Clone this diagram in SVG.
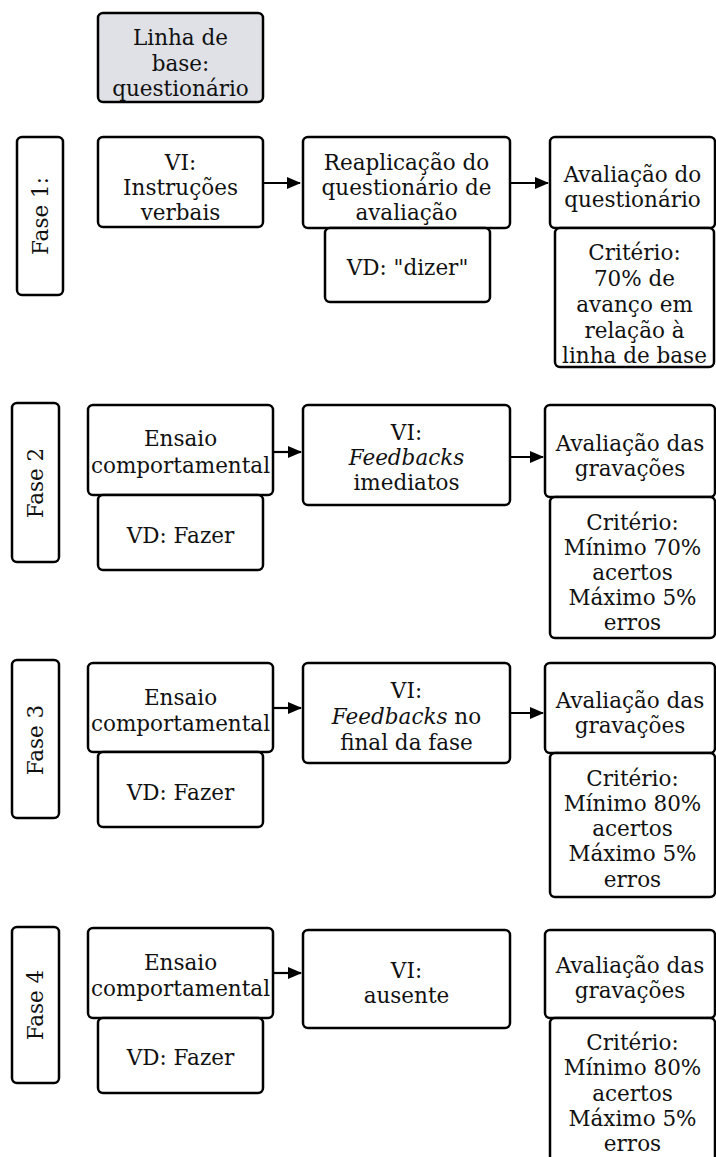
<svg xmlns="http://www.w3.org/2000/svg" width="716" height="1157" viewBox="0 0 716 1157">
<style>
.b{fill:#fff;stroke:#000;stroke-width:2.5}
.g{fill:#dfe1e6;stroke:#000;stroke-width:2.5}
text{font-family:"DejaVu Serif","Liberation Serif",serif;font-size:21.5px;fill:#111;text-anchor:middle}
.i{font-style:italic}
.c{stroke:#000;stroke-width:2.2;fill:none}
</style>
<defs>
<marker id="ah" markerUnits="userSpaceOnUse" markerWidth="14" markerHeight="12" refX="13" refY="6" orient="auto">
<path d="M0,0 L14,6 L0,12 Z" fill="#000"/>
</marker>
</defs>
<rect width="716" height="1157" fill="#fff"/>

<g id="connectors">
<line class="c" x1="263" y1="183" x2="300" y2="183" marker-end="url(#ah)"/>
<line class="c" x1="510" y1="183" x2="548" y2="183" marker-end="url(#ah)"/>
<line class="c" x1="273" y1="452" x2="301" y2="452" marker-end="url(#ah)"/>
<line class="c" x1="510" y1="457" x2="543" y2="457" marker-end="url(#ah)"/>
<line class="c" x1="273" y1="708" x2="301" y2="708" marker-end="url(#ah)"/>
<line class="c" x1="510" y1="713" x2="543" y2="713" marker-end="url(#ah)"/>
<line class="c" x1="273" y1="973" x2="301" y2="973" marker-end="url(#ah)"/>
</g>

<g id="baseline">
<rect class="g" x="98" y="13" width="165" height="89" rx="5"/>
<text x="180.5" y="45">Linha de</text>
<text x="180.5" y="71">base:</text>
<text x="180.5" y="96">questionário</text>
</g>

<!-- Fase 1 -->
<g id="fase1">
<rect class="b" x="17" y="137" width="46" height="158" rx="5"/>
<text transform="translate(48,216) rotate(-90)">Fase 1:</text>
</g>
<g id="f1-vi">
<rect class="b" x="98" y="137" width="165" height="90" rx="5"/>
<text x="180.5" y="170">VI:</text>
<text x="180.5" y="195">Instruções</text>
<text x="180.5" y="220">verbais</text>
</g>
<g id="f1-reap">
<rect class="b" x="303" y="137" width="207" height="91" rx="5"/>
<text x="406.5" y="170">Reaplicação do</text>
<text x="406.5" y="195">questionário de</text>
<text x="406.5" y="220">avaliação</text>
</g>
<g id="f1-vd">
<rect class="b" x="325" y="228" width="165" height="74" rx="5"/>
<text x="407.5" y="275">VD: "dizer"</text>
</g>
<g id="f1-aval">
<rect class="b" x="550" y="137" width="165" height="91" rx="5"/>
<text x="632.5" y="182">Avaliação do</text>
<text x="632.5" y="207">questionário</text>
</g>
<g id="f1-crit">
<rect class="b" x="555" y="228" width="159" height="139" rx="5"/>
<text x="634.5" y="260">Critério:</text>
<text x="634.5" y="286">70% de</text>
<text x="634.5" y="312">avanço em</text>
<text x="634.5" y="338">relação à</text>
<text x="634.5" y="363">linha de base</text>
</g>

<!-- Fase 2 -->
<g id="fase2">
<rect class="b" x="12" y="403" width="47" height="159" rx="5"/>
<text transform="translate(43,483) rotate(-90)">Fase 2</text>
</g>
<g id="f2-ensaio">
<rect class="b" x="88" y="405" width="185" height="90" rx="5"/>
<text x="180.5" y="446">Ensaio</text>
<text x="180.5" y="473">comportamental</text>
</g>
<g id="f2-vd">
<rect class="b" x="98" y="495" width="165" height="75" rx="5"/>
<text x="180.5" y="543">VD: Fazer</text>
</g>
<g id="f2-vi">
<rect class="b" x="303" y="405" width="207" height="100" rx="5"/>
<text x="406.5" y="440">VI:</text>
<text x="406.5" y="465"><tspan class="i">Feedbacks</tspan></text>
<text x="406.5" y="490">imediatos</text>
</g>
<g id="f2-aval">
<rect class="b" x="545" y="405" width="170" height="92" rx="5"/>
<text x="630" y="451">Avaliação das</text>
<text x="630" y="476">gravações</text>
</g>
<g id="f2-crit">
<rect class="b" x="550" y="497" width="165" height="141" rx="5"/>
<text x="632.5" y="530">Critério:</text>
<text x="632.5" y="555">Mínimo 70%</text>
<text x="632.5" y="580">acertos</text>
<text x="632.5" y="605">Máximo 5%</text>
<text x="632.5" y="630">erros</text>
</g>

<!-- Fase 3 -->
<g id="fase3">
<rect class="b" x="12" y="660" width="47" height="158" rx="5"/>
<text transform="translate(43,740) rotate(-90)">Fase 3</text>
</g>
<g id="f3-ensaio">
<rect class="b" x="88" y="663" width="185" height="89" rx="5"/>
<text x="180.5" y="705">Ensaio</text>
<text x="180.5" y="731">comportamental</text>
</g>
<g id="f3-vd">
<rect class="b" x="98" y="752" width="165" height="75" rx="5"/>
<text x="180.5" y="800">VD: Fazer</text>
</g>
<g id="f3-vi">
<rect class="b" x="303" y="663" width="207" height="100" rx="5"/>
<text x="406.5" y="698">VI:</text>
<text x="406.5" y="724"><tspan class="i">Feedbacks</tspan> no</text>
<text x="406.5" y="750">final da fase</text>
</g>
<g id="f3-aval">
<rect class="b" x="545" y="663" width="170" height="90" rx="5"/>
<text x="630" y="708">Avaliação das</text>
<text x="630" y="733">gravações</text>
</g>
<g id="f3-crit">
<rect class="b" x="550" y="753" width="165" height="144" rx="5"/>
<text x="632.5" y="786">Critério:</text>
<text x="632.5" y="811">Mínimo 80%</text>
<text x="632.5" y="836">acertos</text>
<text x="632.5" y="861">Máximo 5%</text>
<text x="632.5" y="887">erros</text>
</g>

<!-- Fase 4 -->
<g id="fase4">
<rect class="b" x="12" y="927" width="47" height="156" rx="5"/>
<text transform="translate(43,1005) rotate(-90)">Fase 4</text>
</g>
<g id="f4-ensaio">
<rect class="b" x="88" y="928" width="185" height="90" rx="5"/>
<text x="180.5" y="970">Ensaio</text>
<text x="180.5" y="996">comportamental</text>
</g>
<g id="f4-vd">
<rect class="b" x="98" y="1018" width="165" height="75" rx="5"/>
<text x="180.5" y="1065">VD: Fazer</text>
</g>
<g id="f4-vi">
<rect class="b" x="303" y="930" width="207" height="98" rx="5"/>
<text x="406.5" y="978">VI:</text>
<text x="406.5" y="1003">ausente</text>
</g>
<g id="f4-aval">
<rect class="b" x="545" y="930" width="170" height="88" rx="5"/>
<text x="630" y="973">Avaliação das</text>
<text x="630" y="998">gravações</text>
</g>
<g id="f4-crit">
<rect class="b" x="550" y="1018" width="165" height="150" rx="5"/>
<text x="632.5" y="1050">Critério:</text>
<text x="632.5" y="1075">Mínimo 80%</text>
<text x="632.5" y="1101">acertos</text>
<text x="632.5" y="1126">Máximo 5%</text>
<text x="632.5" y="1151">erros</text>
</g>
</svg>
